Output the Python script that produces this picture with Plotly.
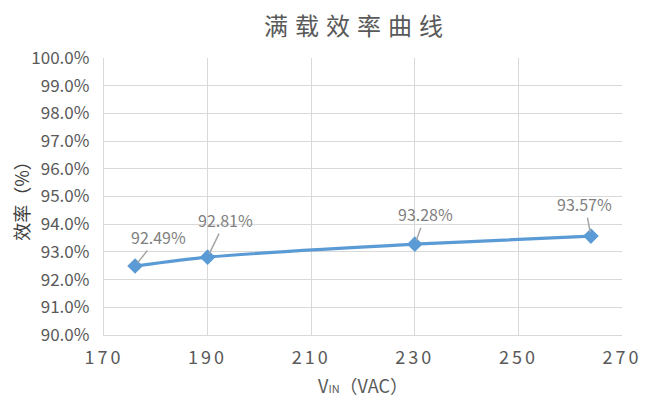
import plotly.graph_objects as go

# data
vin = [176, 190, 230, 264]
efficiency = [92.49, 92.81, 93.28, 93.57]
x_ticks = [170, 190, 210, 230, 250, 270]
y_ticks = [90, 91, 92, 93, 94, 95, 96, 97, 98, 99, 100]

# pixel offsets of each data label from its point (label, leader line)
label_offsets = [(23, -29), (18, -37), (11, -30), (-6, -32)]

FONT = "Noto Sans CJK SC"
BLUE = "#5B9BD5"
GRID = "#D9D9D9"

# the page body adds an 8px margin, so the figure is drawn 8px smaller
W, H = 645, 406

fig = go.Figure()
fig.add_trace(
    go.Scatter(
        x=vin,
        y=efficiency,
        mode="lines+markers",
        line=dict(color=BLUE, width=3.2, shape="spline", smoothing=0.6),
        marker=dict(symbol="diamond", size=12, color=BLUE),
        showlegend=False,
        hoverinfo="skip",
    )
)

# data labels with grey leader lines
for xv, yv, (ax, ay) in zip(vin, efficiency, label_offsets):
    fig.add_annotation(
        x=xv,
        y=yv,
        text=f"{yv:.2f}%",
        showarrow=True,
        arrowhead=0,
        arrowwidth=1.5,
        arrowcolor="#A6A6A6",
        ax=ax,
        ay=ay,
        standoff=4,
        font=dict(family=FONT, size=16, color="#7F7F7F"),
    )


def spaced(txt, px):
    # excel-style character spacing
    return f"<span style='letter-spacing:{px}px'>{txt}</span>"


fig.update_layout(
    width=W,
    height=H,
    margin=dict(l=96, r=31, t=50, b=79),
    paper_bgcolor="white",
    plot_bgcolor="white",
    font=dict(family=FONT, color="#595959"),
    title=dict(
        text=spaced("满载效率曲线", 7),
        x=349 / W,
        xanchor="center",
        y=1 - 19 / H,
        yanchor="middle",
        font=dict(family=FONT, size=24, color="#595959"),
    ),
    xaxis=dict(
        range=[170, 270],
        tickvals=x_ticks,
        ticktext=[spaced(t, 3) for t in x_ticks],
        showgrid=True,
        gridcolor=GRID,
        gridwidth=1.3,
        zeroline=False,
        showline=True,
        linecolor=GRID,
        linewidth=1.3,
        ticks="",
        automargin=False,
        ticklabelstandoff=6,
        tickfont=dict(family=FONT, size=18, color="#595959"),
        title=dict(
            text="V<span style='font-size:11px'>IN</span>（VAC）",
            font=dict(family=FONT, size=18, color="#595959"),
            standoff=12,
        ),
    ),
    yaxis=dict(
        range=[90, 100],
        tickvals=y_ticks,
        ticktext=[f"{t:.1f}%" for t in y_ticks],
        showgrid=True,
        gridcolor=GRID,
        gridwidth=1.3,
        zeroline=False,
        showline=True,
        linecolor=GRID,
        linewidth=1.3,
        ticks="",
        automargin=False,
        ticklabelstandoff=10,
        tickfont=dict(family=FONT, size=17, color="#595959"),
        title=dict(
            text="效率（%）",
            font=dict(family=FONT, size=18, color="#404040"),
            standoff=11,
        ),
    ),
)

fig.write_html("out.html")
